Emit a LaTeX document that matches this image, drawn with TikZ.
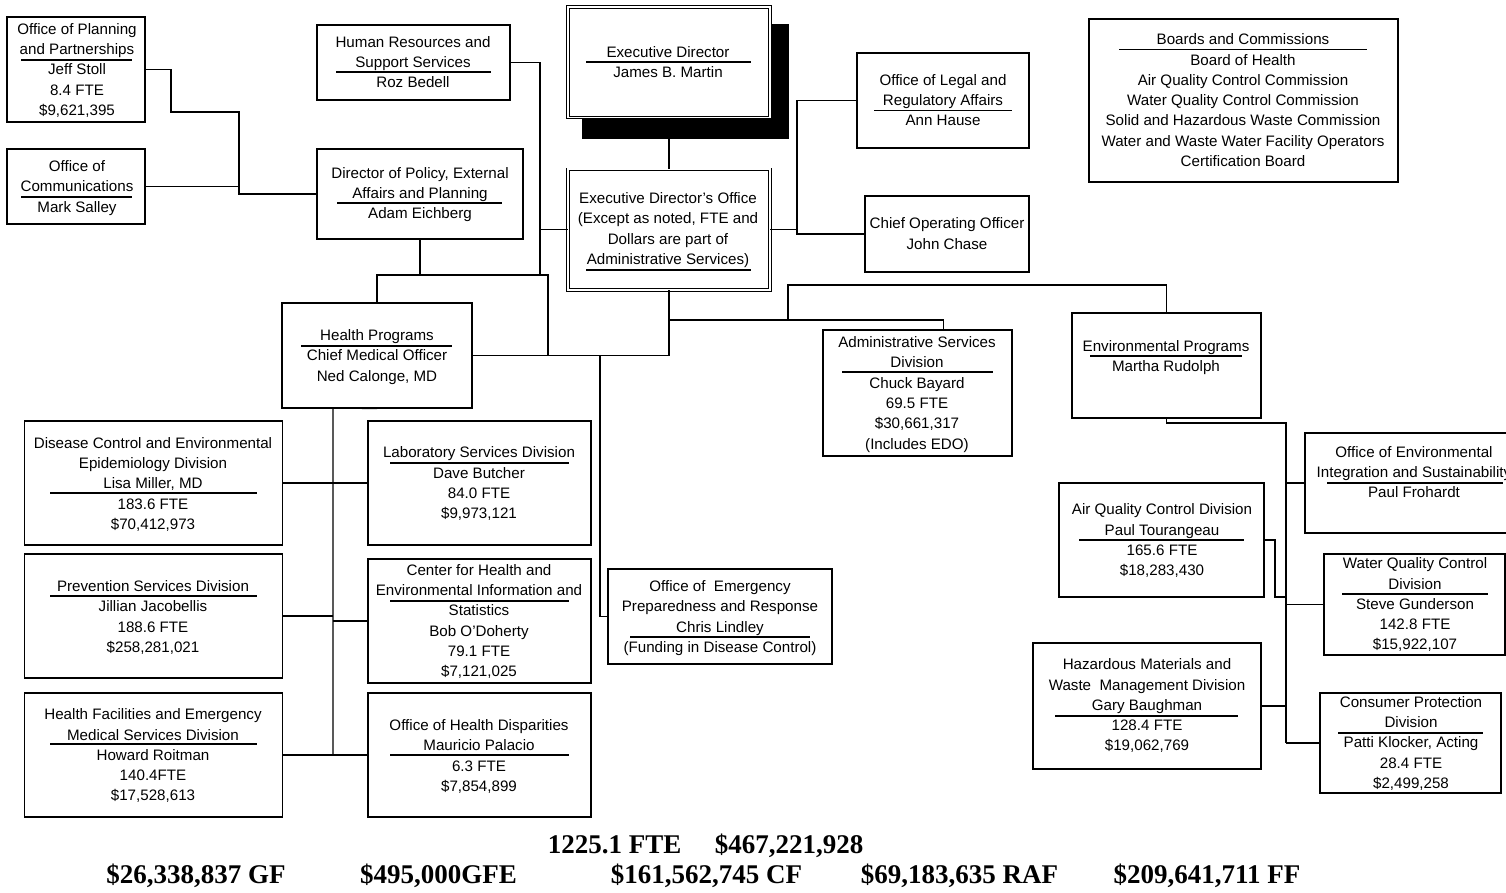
\documentclass[tikz,border=0pt]{standalone}
\usepackage{fontspec}
\setmainfont{Liberation Sans}
\newfontfamily\totalsfont{Liberation Serif}
\usetikzlibrary{calc}

% centred stack of lines
\newcommand\stack[1]{\begin{tabular}{@{}c@{}}#1\end{tabular}}
% box from its corners (x1,y1)-(x2,y2), y measured downwards
\newcommand\orgnode[5]{\node[orgbox, minimum width={(#4-#2)*1bp}, minimum height={(#5-#3)*1bp}] (#1) at ({(#2+#4)/2},{(#3+#5)/2}) {};}
% text block centred at (x,y)
\newcommand\orgtext[4]{\node[boxtext] (#1) at (#2,#3+1.3) {\stack{#4}};}
% separator rule inside a box
\newcommand\urule[3]{\draw[rulestyle] (#1,#3) -- (#2,#3);}

\begin{document}
\begin{tikzpicture}[x=1bp,y=-1bp,
  orgbox/.style={draw=black, line width=1.2bp, fill=white, inner sep=0pt, rectangle},
  dblbox/.style={orgbox, double, double distance=1.8bp, line width=0.9bp},
  boxtext/.style={inner sep=0pt, font=\fontsize{15.15bp}{20.3bp}\selectfont},
  conn/.style={line width=1.2bp},
  rulestyle/.style={line width=1.1bp},
  total/.style={anchor=base, inner sep=0pt, font=\totalsfont\bfseries\fontsize{27bp}{30bp}\selectfont}]
\useasboundingbox (0,0) rectangle (1506,892);

% ---------- executive level ----------
\node[fill=black, inner sep=0pt, minimum width=207bp, minimum height=115bp] (shadow) at (685.5,81.5) {};
\node[dblbox, minimum width=202bp, minimum height=110.5bp] (execdir) at (669,62.25) {};
\node[dblbox, minimum width=202bp, minimum height=120.4bp] (execoff) at (669,229.5) {};
\orgtext{execdir-t}{668}{62}{Executive Director\\James B. Martin}
\urule{586}{751}{62}
\orgtext{execoff-t}{668}{228.7}{Executive Director's Office\\(Except as noted, FTE and\\Dollars are part of\\Administrative Services)}
\urule{586}{751}{270}

% ---------- boxes ----------
\orgnode{planning}{7}{17}{145}{122}
\orgnode{comm}{7}{149}{145}{224}
\orgnode{hr}{317}{25}{510}{100}
\orgnode{policy}{317}{149}{523}{239}
\orgnode{legal}{857}{53}{1029}{148}
\orgnode{coo}{865}{196}{1029}{272}
\orgnode{boards}{1089}{19}{1398}{182}
\orgnode{health}{282}{303}{472}{408}
\orgnode{disease}{24.5}{421}{282.5}{545}
\orgnode{lab}{368}{421}{591}{545}
\orgnode{prevention}{24.5}{554}{282.5}{678}
\orgnode{center}{368}{559}{591}{683}
\orgnode{facilities}{24.5}{693}{282.5}{817}
\orgnode{disparities}{368}{693}{591}{817}
\orgnode{emergency}{608}{569}{832}{664}
\orgnode{admin}{823}{330}{1012}{456}
\orgnode{env}{1072}{313}{1261}{418}
\orgnode{envint}{1305}{433}{1523}{533}
\orgnode{air}{1059}{483}{1264}{597}
\orgnode{water}{1324}{554}{1505}{655}
\orgnode{hazard}{1033}{643}{1261}{769}
\orgnode{consumer}{1320}{693}{1501}{793}

% ---------- box texts ----------
\orgtext{planning-t}{77}{69.5}{Office of Planning\\and Partnerships\\Jeff Stoll\\8.4 FTE\\\$9,621,395}
\urule{21}{132}{60}
\orgtext{comm-t}{77}{186.5}{Office of\\Communications\\Mark Salley}
\urule{21}{132}{197}
\orgtext{hr-t}{413}{62}{Human Resources and\\Support Services\\Roz Bedell}
\urule{336}{491}{72}
\orgtext{policy-t}{420}{193}{Director of Policy, External\\Affairs and Planning\\Adam Eichberg}
\urule{337}{502}{203}
\orgtext{legal-t}{943}{100}{Office of Legal and\\Regulatory Affairs\\Ann Hause}
\urule{874}{1012}{110.5}
\orgtext{coo-t}{947}{233.5}{Chief Operating Officer\\John Chase}
\orgtext{boards-t}{1243}{100.3}{Boards and Commissions\\Board of Health\\Air Quality Control Commission\\Water Quality Control Commission\\Solid and Hazardous Waste Commission\\Water and Waste Water Facility Operators\\Certification Board}
\urule{1119}{1367}{49.5}
\orgtext{health-t}{377}{355.5}{Health Programs\\Chief Medical Officer\\Ned Calonge, MD}
\urule{301}{452}{346}
\orgtext{disease-t}{153}{483.5}{Disease Control and Environmental\\Epidemiology Division\\Lisa Miller, MD\\183.6 FTE\\\$70,412,973}
\urule{50}{257}{493}
\orgtext{prevention-t}{153}{616.5}{Prevention Services Division\\Jillian Jacobellis\\188.6 FTE\\\$258,281,021}
\urule{50}{257}{596}
\orgtext{facilities-t}{153}{755}{Health Facilities and Emergency\\Medical Services Division\\Howard Roitman\\140.4FTE\\\$17,528,613}
\urule{50}{257}{744}
\orgtext{lab-t}{479}{483}{Laboratory Services Division\\Dave Butcher\\84.0 FTE\\\$9,973,121}
\urule{390}{569}{463}
\orgtext{center-t}{479}{620.5}{Center for Health and\\Environmental Information and\\Statistics\\Bob O'Doherty\\79.1 FTE\\\$7,121,025}
\urule{390}{569}{601}
\orgtext{disparities-t}{479}{755.5}{Office of Health Disparities\\Mauricio Palacio\\6.3 FTE\\\$7,854,899}
\urule{390}{569}{755}
\orgtext{emergency-t}{720}{616.5}{Office of\ \ Emergency\\Preparedness and Response\\Chris Lindley\\(Funding in Disease Control)}
\urule{630}{810}{637}
\orgtext{admin-t}{917}{393}{Administrative Services\\Division\\Chuck Bayard\\69.5 FTE\\\$30,661,317\\(Includes EDO)}
\urule{842}{993}{372}
\orgtext{env-t}{1166}{356}{Environmental Programs\\Martha Rudolph}
\urule{1090}{1242}{356}
\orgtext{envint-t}{1414}{472}{Office of Environmental\\Integration and Sustainability\\Paul Frohardt}
\urule{1327}{1503}{483}
\orgtext{air-t}{1162}{540}{Air Quality Control Division\\Paul Tourangeau\\165.6 FTE\\\$18,283,430}
\urule{1079}{1244}{540}
\orgtext{water-t}{1415}{604}{Water Quality Control\\Division\\Steve Gunderson\\142.8 FTE\\\$15,922,107}
\urule{1342}{1488}{594}
\orgtext{hazard-t}{1147}{705}{Hazardous Materials and\\Waste\ \ Management Division\\Gary Baughman\\128.4 FTE\\\$19,062,769}
\urule{1055}{1238}{716}
\orgtext{consumer-t}{1411}{742.5}{Consumer Protection\\Division\\Patti Klocker, Acting\\28.4 FTE\\\$2,499,258}
\urule{1338}{1483}{733}

% ---------- connectors ----------
% policy group
\draw[conn] (planning.east) -- (171,69.5) -- (171,112) -- (239,112) -- (239,194) -- (policy.west);
\draw[conn] (comm.east) -- (239,186.5);
\draw[conn] (hr.east) -- (540,62.5) -- (540,275);
\draw[conn] (execoff.west) -- (540,229.5);
\draw[conn] (policy.south) -- (420,275);
\draw[conn] (health.north) -- (377,275) -- (548,275) -- (548,355.5);
% executive spine
\draw[conn] (execoff.north |- shadow.south) -- (execoff.north);
\draw[conn] (execoff.south) |- (health.east);
\draw[conn] (600,355.5) |- (emergency.west);
\coordinate (edoJ) at (669,320);
\draw[conn] (edoJ) -| ([xshift=121bp]admin.north west);
\draw[conn] (788,320) -- (788,285) -| (env.north);
\draw[conn] (execoff.east) -- (797,229.5);
\draw[conn] (legal.west) -- (797,100.5) -- (797,234) -- (coo.west);
% health programs
\draw[conn] (health.south) -- (333,408) -- (333,755);
\draw[conn] (disease.east) -- (lab.west);
\draw[conn] (prevention.east) -- (333,616);
\draw[conn] (center.west) -- (333,621);
\draw[conn] (facilities.east) -- (disparities.west);
% environmental programs
\draw[conn] (env.south) -- (1166.5,423) -- (1286,423) -- (1286,743);
\draw[conn] (envint.west) -- (1286,483);
\draw[conn] (air.east) -- (1275,540) -- (1275,597) -- (1286,597);
\draw[conn] (water.west) -- (1286,604.5);
\draw[conn] (hazard.east) -- (1286,706);
\draw[conn] (consumer.west) -- (1286,743);

% ---------- totals ----------
\node[total] (fte) at (614.5,853) {1225.1 FTE};
\node[total] (budget) at (789,853) {\$467,221,928};
\node[total] (gf) at (196,883) {\$26,338,837 GF};
\node[total] (gfe) at (438.5,883) {\$495,000GFE};
\node[total] (cf) at (706.5,883) {\$161,562,745 CF};
\node[total] (raf) at (959.5,883) {\$69,183,635 RAF};
\node[total] (ff) at (1207,883) {\$209,641,711 FF};
\end{tikzpicture}
\end{document}
